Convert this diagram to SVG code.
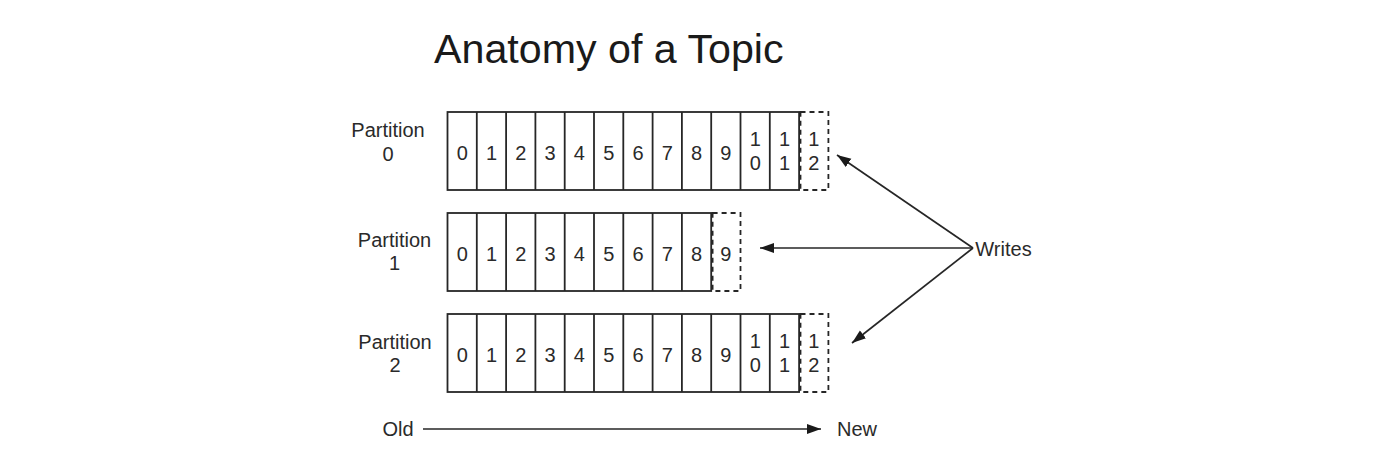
<svg xmlns="http://www.w3.org/2000/svg" width="1383" height="457" viewBox="0 0 1383 457">
<style>
  text { font-family: "Liberation Sans", Arial, sans-serif; fill: #2a2a2a; }
  .title { font-size: 41.2px; fill: #1a1a1a; }
  .lbl { font-size: 20px; text-anchor: middle; }
  .d { font-size: 20px; text-anchor: middle; }
  .box { fill: #fff; stroke: #262626; stroke-width: 1.8; }
  .sep { stroke: #262626; stroke-width: 1.8; }
  .dash { fill: none; stroke: #262626; stroke-width: 1.8; stroke-dasharray: 5 4; }
  .conn { stroke: #262626; stroke-width: 1.7; fill: none; }
</style>
<defs>
  <marker id="ah" markerUnits="userSpaceOnUse" markerWidth="15" markerHeight="11" refX="14" refY="5" orient="auto">
    <path d="M0,0 L14,5 L0,10 z" fill="#1a1a1a"/>
  </marker>
</defs>
<rect width="1383" height="457" fill="#fff"/>
<text class="title" x="434" y="63">Anatomy of a Topic</text>

<g id="partition0" transform="translate(0,112)">
  <text class="lbl" x="388" y="25">Partition</text>
  <text class="lbl" x="388" y="49">0</text>
  <rect class="box" x="447.5" y="0" width="351.6" height="78"/>
  <g class="sep">
    <line x1="476.8" y1="0" x2="476.8" y2="78"/><line x1="506.1" y1="0" x2="506.1" y2="78"/>
    <line x1="535.4" y1="0" x2="535.4" y2="78"/><line x1="564.7" y1="0" x2="564.7" y2="78"/>
    <line x1="594" y1="0" x2="594" y2="78"/><line x1="623.3" y1="0" x2="623.3" y2="78"/>
    <line x1="652.6" y1="0" x2="652.6" y2="78"/><line x1="681.9" y1="0" x2="681.9" y2="78"/>
    <line x1="711.2" y1="0" x2="711.2" y2="78"/><line x1="740.5" y1="0" x2="740.5" y2="78"/>
    <line x1="769.8" y1="0" x2="769.8" y2="78"/>
  </g>
  <rect class="dash" x="800.5" y="0" width="27.9" height="78"/>
  <text class="d" x="462.2" y="47.5">0</text><text class="d" x="491.5" y="47.5">1</text>
  <text class="d" x="520.8" y="47.5">2</text><text class="d" x="550.1" y="47.5">3</text>
  <text class="d" x="579.4" y="47.5">4</text><text class="d" x="608.7" y="47.5">5</text>
  <text class="d" x="638" y="47.5">6</text><text class="d" x="667.3" y="47.5">7</text>
  <text class="d" x="696.6" y="47.5">8</text><text class="d" x="725.9" y="47.5">9</text>
  <text class="d" x="755.2" y="34">1</text><text class="d" x="755.2" y="57.5">0</text>
  <text class="d" x="784.5" y="34">1</text><text class="d" x="784.5" y="57.5">1</text>
  <text class="d" x="813.8" y="34">1</text><text class="d" x="813.8" y="57.5">2</text>
</g>

<g id="partition1" transform="translate(0,213)">
  <text class="lbl" x="394.5" y="34">Partition</text>
  <text class="lbl" x="394.5" y="57">1</text>
  <rect class="box" x="447.5" y="0" width="263.7" height="78"/>
  <g class="sep">
    <line x1="476.8" y1="0" x2="476.8" y2="78"/><line x1="506.1" y1="0" x2="506.1" y2="78"/>
    <line x1="535.4" y1="0" x2="535.4" y2="78"/><line x1="564.7" y1="0" x2="564.7" y2="78"/>
    <line x1="594" y1="0" x2="594" y2="78"/><line x1="623.3" y1="0" x2="623.3" y2="78"/>
    <line x1="652.6" y1="0" x2="652.6" y2="78"/><line x1="681.9" y1="0" x2="681.9" y2="78"/>
  </g>
  <rect class="dash" x="712.6" y="0" width="27.9" height="78"/>
  <text class="d" x="462.2" y="47.5">0</text><text class="d" x="491.5" y="47.5">1</text>
  <text class="d" x="520.8" y="47.5">2</text><text class="d" x="550.1" y="47.5">3</text>
  <text class="d" x="579.4" y="47.5">4</text><text class="d" x="608.7" y="47.5">5</text>
  <text class="d" x="638" y="47.5">6</text><text class="d" x="667.3" y="47.5">7</text>
  <text class="d" x="696.6" y="47.5">8</text><text class="d" x="725.9" y="47.5">9</text>
</g>

<g id="partition2" transform="translate(0,314)">
  <text class="lbl" x="395" y="35">Partition</text>
  <text class="lbl" x="395" y="58">2</text>
  <rect class="box" x="447.5" y="0" width="351.6" height="78"/>
  <g class="sep">
    <line x1="476.8" y1="0" x2="476.8" y2="78"/><line x1="506.1" y1="0" x2="506.1" y2="78"/>
    <line x1="535.4" y1="0" x2="535.4" y2="78"/><line x1="564.7" y1="0" x2="564.7" y2="78"/>
    <line x1="594" y1="0" x2="594" y2="78"/><line x1="623.3" y1="0" x2="623.3" y2="78"/>
    <line x1="652.6" y1="0" x2="652.6" y2="78"/><line x1="681.9" y1="0" x2="681.9" y2="78"/>
    <line x1="711.2" y1="0" x2="711.2" y2="78"/><line x1="740.5" y1="0" x2="740.5" y2="78"/>
    <line x1="769.8" y1="0" x2="769.8" y2="78"/>
  </g>
  <rect class="dash" x="800.5" y="0" width="27.9" height="78"/>
  <text class="d" x="462.2" y="47.5">0</text><text class="d" x="491.5" y="47.5">1</text>
  <text class="d" x="520.8" y="47.5">2</text><text class="d" x="550.1" y="47.5">3</text>
  <text class="d" x="579.4" y="47.5">4</text><text class="d" x="608.7" y="47.5">5</text>
  <text class="d" x="638" y="47.5">6</text><text class="d" x="667.3" y="47.5">7</text>
  <text class="d" x="696.6" y="47.5">8</text><text class="d" x="725.9" y="47.5">9</text>
  <text class="d" x="755.2" y="34">1</text><text class="d" x="755.2" y="57.5">0</text>
  <text class="d" x="784.5" y="34">1</text><text class="d" x="784.5" y="57.5">1</text>
  <text class="d" x="813.8" y="34">1</text><text class="d" x="813.8" y="57.5">2</text>
</g>

<g id="writes">
  <text class="lbl" x="1003.5" y="256">Writes</text>
</g>
<g id="old"><text class="lbl" x="398" y="436">Old</text></g>
<g id="new"><text class="lbl" x="857" y="436">New</text></g>

<g id="connectors">
  <line class="conn" x1="973" y1="248" x2="837" y2="155" marker-end="url(#ah)"/>
  <line class="conn" x1="973" y1="248" x2="760" y2="248" marker-end="url(#ah)"/>
  <line class="conn" x1="973" y1="248" x2="852" y2="343" marker-end="url(#ah)"/>
  <line class="conn" x1="423" y1="429" x2="821" y2="429" marker-end="url(#ah)"/>
</g>
</svg>
